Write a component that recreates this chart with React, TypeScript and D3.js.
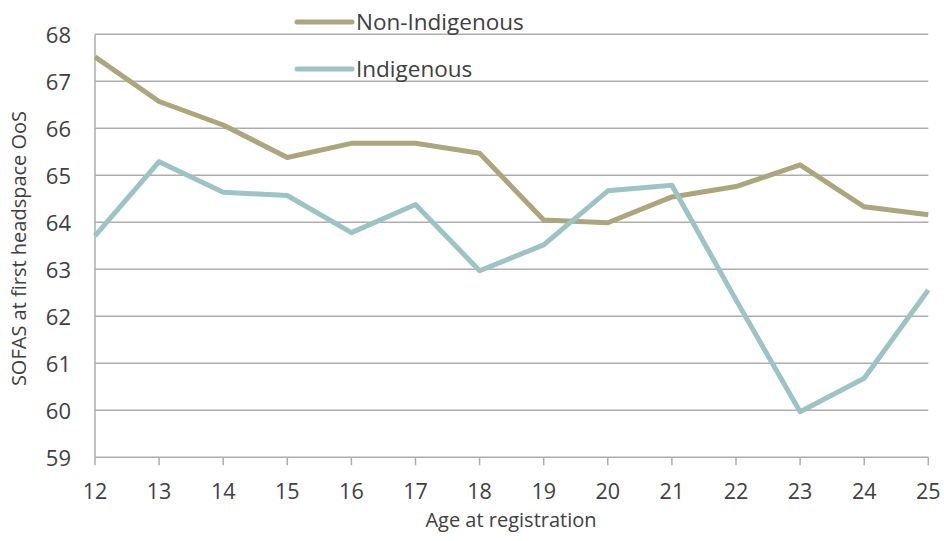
import * as d3 from "d3";

const ages = [12, 13, 14, 15, 16, 17, 18, 19, 20, 21, 22, 23, 24, 25];
const nonIndigenous = [67.52, 66.57, 66.07, 65.38, 65.68, 65.68, 65.47, 64.05, 63.99, 64.54, 64.76, 65.22, 64.33, 64.16];
const indigenous = [63.71, 65.29, 64.64, 64.57, 63.78, 64.38, 62.97, 63.52, 64.67, 64.79, 62.35, 59.97, 60.68, 62.56];
const yTicks = [59, 60, 61, 62, 63, 64, 65, 66, 67, 68];
const seriesNames = ["Non-Indigenous", "Indigenous"];
const seriesColors = ["#AAA67E", "#9DC3C2"];

const width = 944,
  height = 541;
const left = 95,
  right = 928.3,
  top = 34.3,
  bottom = 457.3;
const font = "'Open Sans', sans-serif";
const textColor = "#404040";
const gridColor = "#ADADAD";

export default function App() {
  const xScale = d3.scaleLinear().domain([12, 25]).range([left, right]);
  const yScale = d3.scaleLinear().domain([59, 68]).range([bottom, top]);

  const line = d3
    .line<number>()
    .x((d, i) => xScale(ages[i]))
    .y((d) => yScale(d));

  const allSeries = [nonIndigenous, indigenous];

  return (
    <svg
      width={width}
      height={height}
      style={{ position: "absolute", left: 0, top: 0 }}
      fontFamily={font}
    >
      {/* gridlines */}
      {yTicks.map((t) => (
        <line
          key={t}
          x1={left}
          x2={right}
          y1={yScale(t)}
          y2={yScale(t)}
          stroke={gridColor}
          strokeWidth={1.5}
        />
      ))}
      {/* y axis line */}
      <line x1={left} x2={left} y1={top} y2={bottom} stroke={gridColor} strokeWidth={1.5} />
      {/* x ticks */}
      {ages.map((a) => (
        <line
          key={a}
          x1={xScale(a)}
          x2={xScale(a)}
          y1={bottom}
          y2={bottom + 8}
          stroke={gridColor}
          strokeWidth={1.5}
        />
      ))}
      {/* y tick labels */}
      {yTicks.map((t) => (
        <text
          key={t}
          x={71}
          y={yScale(t) + 8.5}
          textAnchor="end"
          fontSize={22}
          fill={textColor}
        >
          {t}
        </text>
      ))}
      {/* x tick labels */}
      {ages.map((a) => (
        <text
          key={a}
          x={xScale(a)}
          y={498.5}
          textAnchor="middle"
          fontSize={21.5}
          fill={textColor}
        >
          {a}
        </text>
      ))}
      {/* series */}
      {allSeries.map((s, i) => (
        <path
          key={seriesNames[i]}
          d={line(s) ?? ""}
          fill="none"
          stroke={seriesColors[i]}
          strokeWidth={5}
          strokeLinejoin="round"
        />
      ))}
      {/* legend */}
      {seriesNames.map((name, i) => (
        <g key={name} transform={`translate(297 ${22 + i * 47})`}>
          <line x1={0} x2={55} y1={0} y2={0} stroke={seriesColors[i]} strokeWidth={5} strokeLinecap="round" />
          <text x={59} y={7.8} fontSize={22.5} fill={textColor}>
            {name}
          </text>
        </g>
      ))}
      {/* axis titles */}
      <text x={511} y={527} textAnchor="middle" fontSize={20} fill={textColor}>
        Age at registration
      </text>
      <text
        transform={`translate(26 248.5) rotate(-90)`}
        textAnchor="middle"
        fontSize={20}
        fill={textColor}
      >
        SOFAS at first headspace OoS
      </text>
    </svg>
  );
}
